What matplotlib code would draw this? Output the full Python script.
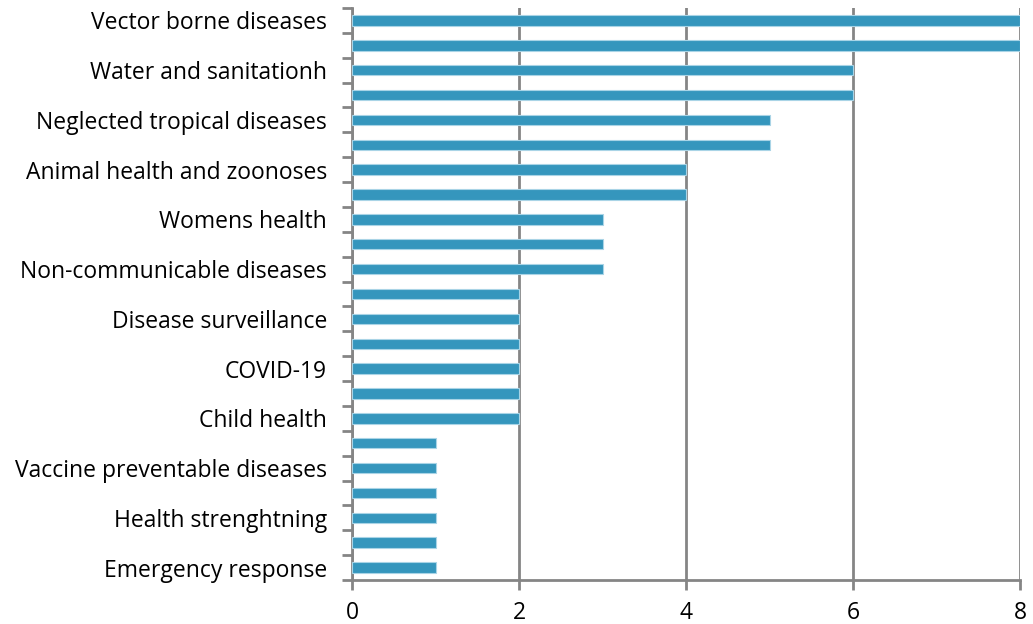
import matplotlib
matplotlib.use("Agg")
import matplotlib.pyplot as plt
from matplotlib.ticker import FixedLocator, FixedFormatter

plt.rcParams.update({
    "font.family": ["Open Sans", "DejaVu Sans"],
    "font.size": 16.5,
})

# Counts per bar, top to bottom; only every other bar carries a label
values = [8, 8, 6, 6, 5, 5, 4, 4, 3, 3, 3, 2, 2, 2, 2, 2, 2, 1, 1, 1, 1, 1, 1]
labels = [
    "Vector borne diseases",
    "Water and sanitationh",
    "Neglected tropical diseases",
    "Animal health and zoonoses",
    "Womens health",
    "Non-communicable diseases",
    "Disease surveillance",
    "COVID-19",
    "Child health",
    "Vaccine preventable diseases",
    "Health strenghtning",
    "Emergency response",
]
x_ticks = [0, 2, 4, 6, 8]

BAR = "#3596bd"
GREY = "#858585"

fig = plt.figure(figsize=(10.33, 6.24), dpi=100)
ax = fig.add_axes([0.3408, 0.0705, 0.9874 - 0.3408, 0.9872 - 0.0705])

pos = list(range(len(values)))
ax.barh(pos, values, height=0.42, color=BAR, edgecolor="#a9d4e6", linewidth=0.8, zorder=3)

ax.set_xlim(0, 8)
ax.set_ylim(-0.5, len(values) - 0.5)
ax.invert_yaxis()

ax.set_xticks(x_ticks)
ax.set_xticklabels([str(t) for t in x_ticks])
ax.xaxis.grid(True, color=GREY, linewidth=2, zorder=0)

# labels at every other bar, tick marks at the category boundaries
ax.yaxis.set_major_locator(FixedLocator(pos[::2]))
ax.yaxis.set_major_formatter(FixedFormatter(labels))
ax.yaxis.set_minor_locator(FixedLocator([p + 0.5 for p in range(-1, len(values))]))
ax.tick_params(axis="y", which="major", length=0, pad=18)
ax.tick_params(axis="y", which="minor", length=7, width=2, color=GREY)
ax.tick_params(axis="x", length=7, width=2, color=GREY, pad=8)

for side in ("top", "right"):
    ax.spines[side].set_visible(False)
for side in ("left", "bottom"):
    ax.spines[side].set_color(GREY)
    ax.spines[side].set_linewidth(2)

fig.savefig("out.png", dpi=100)
